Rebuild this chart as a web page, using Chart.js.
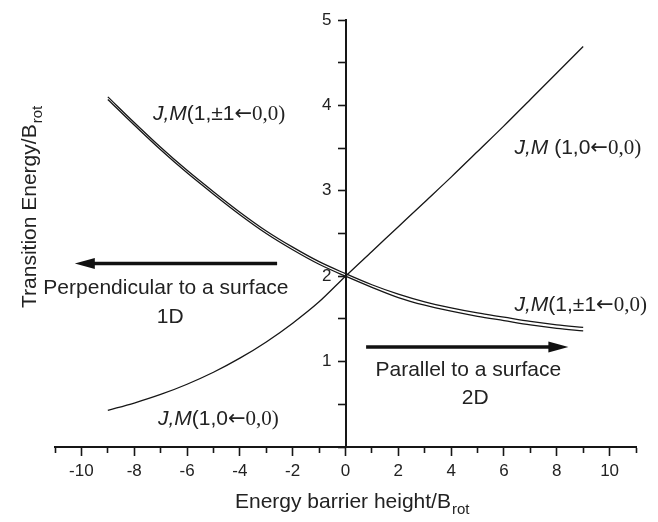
<!DOCTYPE html>
<html>
<head>
<meta charset="utf-8">
<script src="https://cdn.jsdelivr.net/npm/chart.js@4.4.0/dist/chart.umd.min.js"></script>
<style>
  html, body { margin: 0; padding: 0; background: #fff; }
  #wrap { width: 658px; height: 522px; }
</style>
</head>
<body>
<div id="wrap"><canvas id="myChart" width="658" height="522"></canvas></div>
<script>
"use strict";

// barrier height / B_rot
const barrier = [-9, -8, -7, -6, -5, -4, -3, -2, -1, 0, 1, 2, 3, 4, 5, 6, 7, 8, 9];
// J,M (1,0 <- 0,0)
const m0 = [0.43, 0.515, 0.615, 0.735, 0.875, 1.04, 1.23, 1.45, 1.70, 2.00, 2.29, 2.58, 2.87, 3.16, 3.46, 3.76, 4.07, 4.38, 4.69];
// J,M (1,±1 <- 0,0) - drawn as two close lines
const m1a = [4.10, 3.80, 3.51, 3.24, 2.99, 2.75, 2.53, 2.34, 2.17, 2.03, 1.90, 1.79, 1.70, 1.63, 1.57, 1.52, 1.47, 1.43, 1.40];
const m1b = [4.07, 3.77, 3.48, 3.21, 2.96, 2.72, 2.50, 2.31, 2.14, 2.00, 1.87, 1.75, 1.66, 1.59, 1.53, 1.48, 1.43, 1.39, 1.36];

const xMin = -11, xMax = 11;
const yMin = 0, yMax = 5;

const INK = '#161616';
const SANS = '"Liberation Sans", Arial, sans-serif';
const SERIF = '"Liberation Serif", "Times New Roman", serif';

function toPoints(ys) {
    return barrier.map((b, i) => ({ x: b, y: ys[i] }));
}

function line(data) {
    return {
        data: toPoints(data),
        borderColor: INK,
        borderWidth: 1.3,
        pointRadius: 0,
        fill: false,
        cubicInterpolationMode: 'monotone'
    };
}

// J,M(1,x<-0,0) label, left edge at x, baseline at y
function stateLabel(ctx, x, y, mid, gap) {
    const parts = [
        ['J,M', 'italic 21px ' + SANS],
        [gap ? ' ' : '', '21px ' + SANS],
        ['(1,' + mid, '21px ' + SANS],
        ['\u2190', '21px "DejaVu Sans", sans-serif'],
        ['0,0)', '21px ' + SERIF]
    ];
    ctx.textAlign = 'left';
    ctx.textBaseline = 'alphabetic';
    parts.forEach(p => {
        ctx.font = p[1];
        ctx.fillText(p[0], x, y);
        x += ctx.measureText(p[0]).width;
    });
}

function arrow(ctx, x1, y, x2) {
    const dir = Math.sign(x2 - x1);
    const head = 20;
    ctx.lineWidth = 3.5;
    ctx.beginPath();
    ctx.moveTo(x1, y);
    ctx.lineTo(x2 - dir * head * 0.8, y);
    ctx.stroke();
    ctx.beginPath();
    ctx.moveTo(x2, y);
    ctx.lineTo(x2 - dir * head, y - 5.5);
    ctx.lineTo(x2 - dir * head, y + 5.5);
    ctx.closePath();
    ctx.fill();
}

function titleWithSub(ctx, x, y, main, sub) {
    ctx.textAlign = 'left';
    ctx.textBaseline = 'alphabetic';
    ctx.font = '21px ' + SANS;
    ctx.fillText(main, x, y);
    const w = ctx.measureText(main).width;
    ctx.font = '15px ' + SANS;
    ctx.fillText(sub, x + w + 1, y + 6);
}

const annotate = {
    id: 'annotate',
    afterDraw(chart) {
        const ctx = chart.ctx;
        const px = v => chart.scales.x.getPixelForValue(v);
        const py = v => chart.scales.y.getPixelForValue(v);
        ctx.save();
        ctx.fillStyle = '#222';
        ctx.strokeStyle = '#111';

        stateLabel(ctx, px(-7.29), py(3.91) + 7, '\u00b11', false);
        stateLabel(ctx, px(6.40), py(3.51) + 7, '0', true);
        stateLabel(ctx, px(6.40), py(1.68) + 7, '\u00b11', false);
        stateLabel(ctx, px(-7.10), py(0.34) + 7, '0', false);

        ctx.font = '21px ' + SANS;
        ctx.textAlign = 'center';
        ctx.textBaseline = 'middle';
        ctx.fillText('Perpendicular to a surface', px(-6.80), py(1.86));
        ctx.fillText('1D', px(-6.64), py(1.52));
        ctx.fillText('Parallel to a surface', px(4.65), py(0.90));
        ctx.fillText('2D', px(4.91), py(0.57));

        ctx.fillStyle = '#111';
        arrow(ctx, px(-2.59), py(2.15), px(-10.25));
        arrow(ctx, px(0.78), py(1.17), px(8.44));

        ctx.fillStyle = '#222';
        titleWithSub(ctx, 235, 508, 'Energy barrier height/B', 'rot');
        ctx.translate(36, 308);
        ctx.rotate(-Math.PI / 2);
        titleWithSub(ctx, 0, 0, 'Transition Energy/B', 'rot');
        ctx.restore();
    }
};

const chart = new Chart(document.getElementById('myChart').getContext('2d'), {
    type: 'line',
    data: {
        datasets: [line(m0), line(m1a), line(m1b)]
    },
    options: {
        responsive: false,
        devicePixelRatio: 1,
        animation: false,
        layout: { padding: { left: 55, right: 22, top: 20, bottom: 0 } },
        plugins: { legend: { display: false }, tooltip: { enabled: false } },
        scales: {
            x: {
                type: 'linear',
                position: 'bottom',
                min: xMin,
                max: xMax,
                afterFit: s => { s.height = 75; },
                ticks: {
                    stepSize: 1,
                    autoSkip: false,
                    maxRotation: 0,
                    padding: 5,
                    color: '#222',
                    font: { family: SANS, size: 17 },
                    callback: v => (v % 2 === 0 ? String(v) : '')
                },
                grid: {
                    drawOnChartArea: false,
                    tickLength: 9,
                    tickWidth: 1.6,
                    tickColor: INK,
                    tickBorderDash: c => (c.tick && c.tick.value % 2 !== 0 ? [5, 40] : [])
                },
                border: { color: INK, width: 2 }
            },
            y: {
                type: 'linear',
                position: { x: 0 },
                min: yMin,
                max: yMax,
                ticks: {
                    stepSize: 0.5,
                    autoSkip: false,
                    color: '#222',
                    font: { family: SANS, size: 17 },
                    // labels sit right on the centred axis, so pad them with spaces
                    callback: v => (Number.isInteger(v) && v > 0 ? v + '   ' : '')
                },
                grid: {
                    drawOnChartArea: false,
                    tickLength: 7,
                    tickWidth: 1.6,
                    tickColor: INK
                },
                border: { color: INK, width: 2 }
            }
        }
    },
    plugins: [annotate]
});
</script>
</body>
</html>
